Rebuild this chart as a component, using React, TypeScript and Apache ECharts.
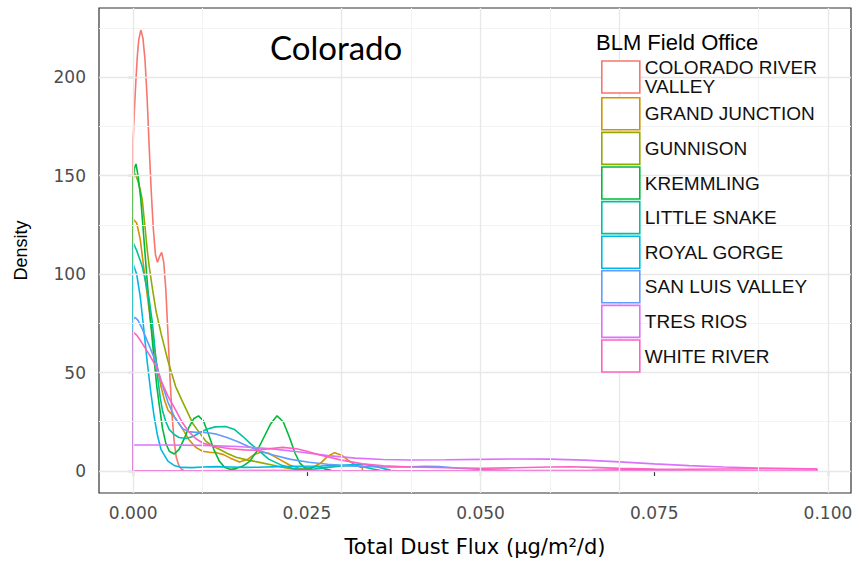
import React, { useEffect, useRef } from "react";
import * as echarts from "echarts";

type Pt = [number, number];

// BLM field offices, in legend / drawing order
const officeNames = [
  "COLORADO RIVER VALLEY",
  "GRAND JUNCTION",
  "GUNNISON",
  "KREMMLING",
  "LITTLE SNAKE",
  "ROYAL GORGE",
  "SAN LUIS VALLEY",
  "TRES RIOS",
  "WHITE RIVER",
];

const officeColors = [
  "#F8766D",
  "#D39200",
  "#93AA00",
  "#00BA38",
  "#00C19F",
  "#00B9E3",
  "#619CFF",
  "#DB72FB",
  "#FF61C3",
];

// Kernel density estimates of total dust flux (x: µg/m²/d, y: density)
const coloradoRiverValley: Pt[] = [
  [0, 168], [0.0002, 185], [0.0004, 199], [0.0006, 211], [0.0008, 219], [0.0011, 224],
  [0.0014, 220], [0.0017, 209], [0.002, 190], [0.0023, 165], [0.0026, 142], [0.0029, 123],
  [0.0032, 110], [0.0035, 106], [0.0038, 109], [0.0041, 111], [0.0044, 106], [0.0047, 92],
  [0.005, 70], [0.0053, 47], [0.0056, 28], [0.0059, 15], [0.0062, 7], [0.0066, 2.5],
  [0.007, 0.7], [0.0073, 0.2],
];

const grandJunction: Pt[] = [
  [0, 128], [0.0005, 126], [0.001, 118], [0.0015, 104], [0.002, 90], [0.0025, 76],
  [0.003, 63], [0.0035, 52], [0.004, 43], [0.0045, 36], [0.005, 31], [0.0055, 29],
  [0.006, 27], [0.007, 22], [0.008, 16], [0.009, 12], [0.01, 10], [0.011, 9.5],
  [0.012, 9.3], [0.013, 8.3], [0.014, 6.5], [0.0153, 4.5], [0.0165, 6], [0.0175, 8.5],
  [0.0185, 9.6], [0.0195, 9], [0.021, 6], [0.0225, 3], [0.024, 1.3], [0.0255, 1.2],
  [0.027, 4], [0.028, 7.5], [0.029, 9.3], [0.03, 8], [0.031, 5.3], [0.032, 3], [0.033, 1.5],
];

const gunnison: Pt[] = [
  [0, 150], [0.0003, 151], [0.0007, 147], [0.001, 143], [0.0013, 138], [0.0017, 124],
  [0.002, 113], [0.0023, 104], [0.0028, 92], [0.0033, 81], [0.004, 70], [0.005, 56],
  [0.0061, 43], [0.007, 36], [0.0078, 30], [0.0086, 24], [0.0095, 19.6], [0.0105, 15],
  [0.0115, 12.5], [0.0124, 11], [0.0135, 9], [0.0148, 7], [0.0165, 5.5], [0.018, 4.5],
  [0.02, 3], [0.022, 1.5], [0.024, 0.6], [0.026, 0.2],
];

const kremmling: Pt[] = [
  [0, 148], [0.0002, 154], [0.0004, 156], [0.0007, 150], [0.0011, 138], [0.0015, 120],
  [0.002, 97], [0.0025, 76], [0.003, 57], [0.0034, 43], [0.0037, 35], [0.0042, 22],
  [0.0047, 14], [0.0052, 10], [0.0059, 8.6], [0.0066, 11], [0.0073, 16], [0.008, 22],
  [0.0087, 26.5], [0.0094, 28], [0.0101, 25.5], [0.0108, 19], [0.0116, 11], [0.0124, 5],
  [0.0132, 1.8], [0.014, 0.9], [0.0148, 1.2], [0.0158, 2.5], [0.0168, 5], [0.0178, 10],
  [0.0188, 17], [0.0198, 24], [0.0207, 28], [0.0216, 25], [0.0225, 17], [0.0233, 9],
  [0.024, 4], [0.0247, 1.6], [0.0255, 1.5], [0.0263, 2.3], [0.027, 2], [0.0278, 0.8],
  [0.0285, 0.3],
];

const littleSnake: Pt[] = [
  [0, 116], [0.0005, 112], [0.001, 107], [0.0013, 104], [0.0018, 96], [0.0023, 87],
  [0.0027, 77], [0.003, 67], [0.0035, 48], [0.0039, 37], [0.0042, 31], [0.0047, 25],
  [0.0052, 21], [0.0059, 18.5], [0.0066, 17], [0.0076, 16.5], [0.0086, 17.5], [0.0096, 19.5],
  [0.0106, 21.2], [0.0118, 22.4], [0.0133, 22.6], [0.0146, 21], [0.0158, 17.5], [0.017, 13.5],
  [0.0181, 10.3], [0.0195, 6], [0.0215, 2.7], [0.023, 1.2], [0.0244, 0.7], [0.026, 1],
  [0.028, 1.8], [0.03, 2.6], [0.0315, 2.8], [0.033, 2.2], [0.0345, 1], [0.0355, 0.4],
];

const royalGorge: Pt[] = [
  [0, 105], [0.0005, 100], [0.001, 89], [0.0015, 73], [0.002, 56], [0.0025, 41],
  [0.003, 28], [0.0035, 18], [0.004, 11], [0.005, 5], [0.006, 2.6], [0.007, 1.8],
  [0.0085, 1.7], [0.01, 2], [0.012, 2.2], [0.014, 2], [0.016, 1.8], [0.018, 1.9],
  [0.021, 2.2], [0.024, 2.4], [0.027, 2.5], [0.03, 2.9], [0.032, 3.3], [0.0335, 3.2],
  [0.035, 2.2], [0.036, 1.2], [0.037, 0.5],
];

const sanLuisValley: Pt[] = [
  [0, 77], [0.0003, 78], [0.0007, 76.5], [0.0012, 73], [0.0018, 68], [0.0025, 62],
  [0.0033, 55], [0.004, 46], [0.005, 35], [0.006, 27], [0.0071, 21.5], [0.008, 20],
  [0.009, 19.6], [0.01, 19.6], [0.011, 19.3], [0.012, 18.7], [0.0135, 17], [0.015, 15],
  [0.0165, 12.6], [0.0181, 10.3], [0.02, 8.2], [0.0225, 6], [0.0253, 4.4], [0.028, 3.4],
  [0.0306, 2.7], [0.033, 2.3], [0.036, 2], [0.039, 2], [0.042, 2.4], [0.044, 2.3],
  [0.047, 1.4], [0.05, 0.7], [0.054, 0.3], [0.06, 0.2], [0.066, 0.3], [0.071, 0.6],
  [0.074, 0.7], [0.077, 0.4], [0.079, 0.2],
];

const tresRios: Pt[] = [
  [0, 13.2], [0.005, 13.2], [0.01, 13], [0.015, 12.4], [0.02, 11.2], [0.024, 9.6],
  [0.028, 7.8], [0.032, 6.5], [0.036, 5.8], [0.04, 5.6], [0.045, 5.7], [0.05, 5.9],
  [0.055, 6.1], [0.06, 6], [0.065, 5.5], [0.07, 4.6], [0.075, 3.6], [0.08, 2.7],
  [0.085, 2], [0.09, 1.5], [0.095, 1.2], [0.0984, 1],
];

const whiteRiver: Pt[] = [
  [0, 70.5], [0.0005, 69], [0.001, 66.5], [0.0018, 62], [0.0025, 58], [0.0033, 53],
  [0.004, 46], [0.005, 38], [0.0061, 31], [0.007, 25], [0.008, 20], [0.009, 16.5],
  [0.01, 14.2], [0.012, 12.3], [0.014, 11.3], [0.016, 10.7], [0.018, 10.5], [0.0195, 11.3],
  [0.0215, 12], [0.0235, 11.3], [0.025, 10], [0.027, 8], [0.03, 5.5], [0.033, 3.6],
  [0.036, 2.6], [0.04, 2], [0.045, 1.6], [0.05, 1.4], [0.055, 1.6], [0.06, 2],
  [0.063, 2.1], [0.066, 1.8], [0.07, 1.3], [0.075, 1], [0.08, 0.9], [0.085, 1],
  [0.09, 1.1], [0.095, 1.1], [0.0984, 1],
];

const densityCurves: Pt[][] = [
  coloradoRiverValley, grandJunction, gunnison, kremmling, littleSnake,
  royalGorge, sanLuisValley, tresRios, whiteRiver,
];

// Axis breaks and limits
const xTicks = [0, 0.025, 0.05, 0.075, 0.1];
const xMinorBreaks = [0.0125, 0.0375, 0.0625, 0.0875];
const yTicks = [0, 50, 100, 150, 200];
const yMinorBreaks = [25, 75, 125, 175, 225];
const xLimits: [number, number] = [-0.00492, 0.10332];
const yLimits: [number, number] = [-11.2, 235.2];

// Density outline closed down to the baseline at both ends of the curve
function outline(curve: Pt[]): Pt[] {
  const first = curve[0];
  const last = curve[curve.length - 1];
  return [[first[0], 0], ...curve, [last[0], 0], [first[0], 0]];
}

export default function App() {
  const ref = useRef<HTMLDivElement>(null);

  useEffect(() => {
    if (!ref.current) return;
    const chart = echarts.init(ref.current, undefined, { renderer: "svg" });

    const majorLine = { color: "#e8e8e8", width: 1.4, type: "solid" };
    const minorLine = { color: "#f3f3f3", width: 1, type: "solid" };

    const gridLines = [
      ...xMinorBreaks.map((v) => ({ xAxis: v, lineStyle: minorLine })),
      ...yMinorBreaks.map((v) => ({ yAxis: v, lineStyle: minorLine })),
      ...xTicks.map((v) => ({ xAxis: v, lineStyle: majorLine })),
      ...yTicks.map((v) => ({ yAxis: v, lineStyle: majorLine })),
    ];

    const curveSeries = officeNames.map((name, i) => ({
      name,
      type: "line",
      data: outline(densityCurves[i]),
      showSymbol: false,
      symbol: "none",
      smooth: false,
      silent: true,
      z: 3,
      lineStyle: { color: officeColors[i], width: 1.6 },
      itemStyle: { color: officeColors[i] },
    }));

    chart.setOption({
      animation: false,
      textStyle: { fontFamily: "Liberation Sans" },
      grid: {
        left: 99,
        right: 8,
        top: 8,
        bottom: 69,
        show: true,
        backgroundColor: "#ffffff",
        borderColor: "#333333",
        borderWidth: 1.2,
        containLabel: false,
      },
      xAxis: {
        type: "value",
        min: xLimits[0],
        max: xLimits[1],
        name: "Total Dust Flux (μg/m²/d)",
        nameLocation: "middle",
        nameGap: 43,
        nameTextStyle: { fontFamily: "DejaVu Sans", fontSize: 21, color: "#000000" },
        axisLine: { show: false },
        splitLine: { show: false },
        axisTick: {
          show: true,
          length: 5,
          customValues: xTicks,
          lineStyle: { color: "#333333", width: 1.2 },
        },
        axisLabel: {
          customValues: xTicks,
          margin: 11,
          fontFamily: "DejaVu Sans",
          fontSize: 17,
          color: "#4d4d4d",
          formatter: (v: number) => v.toFixed(3),
        },
      },
      yAxis: {
        type: "value",
        min: yLimits[0],
        max: yLimits[1],
        name: "Density",
        nameLocation: "middle",
        nameGap: 69,
        nameTextStyle: { fontFamily: "Liberation Sans", fontSize: 18, color: "#000000" },
        axisLine: { show: false },
        splitLine: { show: false },
        axisTick: {
          show: true,
          length: 5,
          customValues: yTicks,
          lineStyle: { color: "#333333", width: 1.2 },
        },
        axisLabel: {
          customValues: yTicks,
          margin: 13,
          fontFamily: "DejaVu Sans",
          fontSize: 17,
          color: "#4d4d4d",
          formatter: (v: number) => String(Math.round(v)),
        },
      },
      legend: {
        orient: "vertical",
        left: 596,
        top: 53,
        itemWidth: 38,
        itemHeight: 32,
        itemGap: 1,
        icon: "rect",
        selectedMode: false,
        z: 6,
        textStyle: {
          fontFamily: "Liberation Sans",
          fontSize: 19,
          color: "#111111",
          lineHeight: 19,
        },
        formatter: (n: string) =>
          n === "COLORADO RIVER VALLEY" ? "COLORADO RIVER\nVALLEY" : n,
        data: officeNames.map((n, i) => ({
          name: n,
          icon: "rect",
          itemStyle: { color: "#ffffff", borderColor: officeColors[i], borderWidth: 1.6 },
        })),
      },
      graphic: [
        {
          type: "rect",
          z: 4,
          shape: { x: 582, y: 23, width: 268, height: 357 },
          style: { fill: "#ffffff" },
          silent: true,
        },
        {
          type: "text",
          z: 7,
          left: 596,
          top: 31,
          style: { text: "BLM Field Office", font: "22px 'Liberation Sans'", fill: "#000000" },
        },
        {
          type: "text",
          z: 7,
          left: 270,
          top: 30,
          style: { text: "Colorado", font: "33px Lato", fill: "#000000" },
        },
      ],
      series: [
        {
          type: "line",
          name: "gridlines",
          data: [],
          silent: true,
          z: 1,
          markLine: {
            silent: true,
            symbol: ["none", "none"],
            animation: false,
            label: { show: false },
            lineStyle: { type: "solid" },
            emphasis: { disabled: true },
            data: gridLines,
          },
        },
        ...curveSeries,
      ],
    });

    return () => chart.dispose();
  }, []);

  return (
    <div
      ref={ref}
      style={{ position: "fixed", left: 0, top: 0, width: 859, height: 562, background: "#ffffff" }}
    />
  );
}
